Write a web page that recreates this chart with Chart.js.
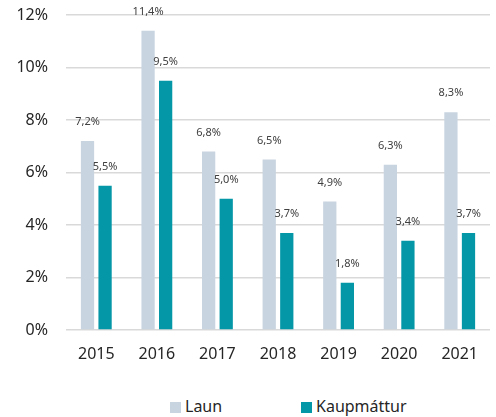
<!DOCTYPE html>
<html lang="is">
<head>
    <meta charset="UTF-8">
    <title>Laun og kaupmáttur</title>
    <script src="https://cdn.jsdelivr.net/npm/chart.js"></script>
    <style>
        body {
            margin: 0;
            padding: 0;
            background: #fff;
            font-family: 'Noto Sans', sans-serif;
            color: #262626;
        }
        #wrap {
            position: relative;
            width: 496px;
            height: 417px;
        }
        #chart-box {
            position: absolute;
            left: 0;
            top: 0;
            width: 496px;
            height: 385px;
        }
        .legend-item {
            position: absolute;
            top: 395px;
            height: 22px;
            line-height: 22px;
            font-size: 16px;
            color: #262626;
            white-space: nowrap;
        }
        .legend-item span.box {
            display: inline-block;
            width: 11px;
            height: 11px;
            margin-right: 4px;
            vertical-align: -1px;
        }
    </style>
</head>
<body>
    <div id="wrap">
        <div id="chart-box"><canvas id="launChart"></canvas></div>
        <div class="legend-item" id="leg0" style="left:170px"><span class="box"></span><span class="txt"></span></div>
        <div class="legend-item" id="leg1" style="left:301px"><span class="box"></span><span class="txt"></span></div>
    </div>

    <script>
        // data
        const years = ['2015', '2016', '2017', '2018', '2019', '2020', '2021'];
        const laun = [7.2, 11.4, 6.8, 6.5, 4.9, 6.3, 8.3];
        const kaupmattur = [5.5, 9.5, 5.0, 3.7, 1.8, 3.4, 3.7];
        const seriesNames = ['Laun', 'Kaupmáttur'];
        const seriesColors = ['#c8d4e0', '#0397a7'];

        function fmtPct(v) {
            return v.toFixed(1).replace('.', ',') + '%';
        }

        // value labels above each bar
        const barLabels = {
            id: 'barLabels',
            afterDatasetsDraw(chart) {
                const ctx = chart.ctx;
                ctx.save();
                ctx.font = '11px "Noto Sans", sans-serif';
                ctx.fillStyle = '#404040';
                ctx.textAlign = 'center';
                ctx.textBaseline = 'middle';
                chart.data.datasets.forEach((ds, i) => {
                    chart.getDatasetMeta(i).data.forEach((bar, j) => {
                        ctx.fillText(fmtPct(ds.data[j]), bar.x, bar.y - 19);
                    });
                });
                ctx.restore();
            }
        };

        const ctx = document.getElementById('launChart').getContext('2d');
        new Chart(ctx, {
            type: 'bar',
            data: {
                labels: years,
                datasets: [
                    { label: seriesNames[0], data: laun, backgroundColor: seriesColors[0] },
                    { label: seriesNames[1], data: kaupmattur, backgroundColor: seriesColors[1] }
                ]
            },
            options: {
                responsive: true,
                maintainAspectRatio: false,
                animation: false,
                categoryPercentage: 0.58,
                barPercentage: 0.755,
                layout: { padding: { top: 15, right: 6, left: 0, bottom: 0 } },
                plugins: {
                    legend: { display: false },
                    tooltip: { enabled: false }
                },
                scales: {
                    x: {
                        grid: { display: false, drawTicks: false },
                        border: { display: false },
                        ticks: {
                            padding: 15,
                            color: '#262626',
                            font: { family: 'Noto Sans', size: 16 }
                        },
                        afterFit(scale) { scale.height = 55; }
                    },
                    y: {
                        min: 0,
                        max: 12,
                        grid: { color: '#d9d9d9', lineWidth: 1.5, drawTicks: false },
                        border: { display: false },
                        ticks: {
                            stepSize: 2,
                            padding: 18,
                            color: '#262626',
                            font: { family: 'Noto Sans', size: 16 },
                            callback: v => v + '%'
                        },
                        afterFit(scale) {
                            scale.width = 66;
                            scale.paddingTop = 0;
                            scale.paddingBottom = 0;
                        }
                    }
                }
            },
            plugins: [barLabels]
        });

        // legend below the chart
        seriesNames.forEach((name, i) => {
            const el = document.getElementById('leg' + i);
            el.querySelector('.box').style.background = seriesColors[i];
            el.querySelector('.txt').textContent = name;
        });
    </script>
</body>
</html>
